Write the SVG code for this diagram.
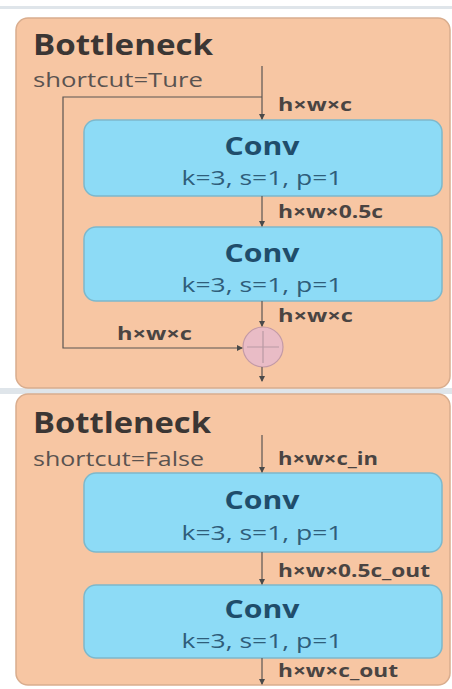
<svg xmlns="http://www.w3.org/2000/svg" width="452" height="689" viewBox="0 0 452 689">
  <defs>
    <marker id="arrow" viewBox="0 0 6 6" refX="5" refY="3" markerWidth="5" markerHeight="5" orient="auto">
      <path d="M0,0 L6,3 L0,6 Z" fill="#4a4a4a"/>
    </marker>
    <style>
      .panel { fill: #f7c6a3; stroke: #d9ad8e; stroke-width: 1.5; }
      .conv { fill: #8ddbf6; stroke: #7db8cc; stroke-width: 1.5; }
      .title { font-family: "Open Sans", "Noto Sans", sans-serif; font-weight: bold; font-size: 28px; fill: #3b3634; }
      .sub { font-family: "Open Sans", "Noto Sans", sans-serif; font-size: 20px; fill: #5a5350; }
      .cname { font-family: "Open Sans", "Noto Sans", sans-serif; font-weight: bold; font-size: 25px; fill: #1f4d6b; text-anchor: middle; }
      .cparam { font-family: "Open Sans", "Noto Sans", sans-serif; font-size: 20px; fill: #2f5d7a; text-anchor: middle; }
      .dim { font-family: "Open Sans", "Noto Sans", sans-serif; font-weight: bold; font-size: 18px; fill: #4a4442; }
      .wire { fill: none; stroke: #5a5552; stroke-width: 1.2; }
    </style>
  </defs>

  <rect x="0" y="0" width="452" height="689" fill="#ffffff"/>
  <rect x="0" y="6" width="452" height="3" fill="#dfe5ea"/>
  <rect x="0" y="388" width="452" height="6" fill="#dfe5ea"/>

  <!-- upper block: shortcut enabled -->
  <g id="bottleneck-shortcut">
    <rect class="panel" x="16" y="18" width="434" height="370" rx="12"/>
    <text class="title" x="33" y="55" textLength="180" lengthAdjust="spacingAndGlyphs">Bottleneck</text>
    <text class="sub" x="33" y="87" textLength="170" lengthAdjust="spacingAndGlyphs">shortcut=Ture</text>
  </g>
  <g id="conv1">
    <rect class="conv" x="84" y="120" width="358" height="76" rx="12"/>
    <text class="cname" x="262" y="155" textLength="75" lengthAdjust="spacingAndGlyphs">Conv</text>
    <text class="cparam" x="262" y="185" textLength="161" lengthAdjust="spacingAndGlyphs">k=3, s=1, p=1</text>
  </g>
  <g id="conv2">
    <rect class="conv" x="84" y="227" width="358" height="74" rx="12"/>
    <text class="cname" x="262" y="262" textLength="75" lengthAdjust="spacingAndGlyphs">Conv</text>
    <text class="cparam" x="262" y="292" textLength="161" lengthAdjust="spacingAndGlyphs">k=3, s=1, p=1</text>
  </g>
  <g id="add">
    <circle cx="263" cy="347" r="20" fill="#e9bcc6" stroke="#c39aa6" stroke-width="1.2"/>
    <path d="M263,331 V363 M247,347 H279" stroke="#b99aa4" stroke-width="1.2"/>
  </g>

  <!-- lower block: no shortcut -->
  <g id="bottleneck-plain">
    <rect class="panel" x="16" y="394" width="434" height="291" rx="12"/>
    <text class="title" x="33" y="433" textLength="178" lengthAdjust="spacingAndGlyphs">Bottleneck</text>
    <text class="sub" x="33" y="466" textLength="171" lengthAdjust="spacingAndGlyphs">shortcut=False</text>
  </g>
  <g id="conv3">
    <rect class="conv" x="84" y="473" width="358" height="79" rx="12"/>
    <text class="cname" x="262" y="509" textLength="75" lengthAdjust="spacingAndGlyphs">Conv</text>
    <text class="cparam" x="262" y="540" textLength="161" lengthAdjust="spacingAndGlyphs">k=3, s=1, p=1</text>
  </g>
  <g id="conv4">
    <rect class="conv" x="84" y="585" width="358" height="73" rx="12"/>
    <text class="cname" x="262" y="618" textLength="75" lengthAdjust="spacingAndGlyphs">Conv</text>
    <text class="cparam" x="262" y="648" textLength="161" lengthAdjust="spacingAndGlyphs">k=3, s=1, p=1</text>
  </g>

  <g id="connectors">
    <line class="wire" x1="262" y1="66" x2="262" y2="119" marker-end="url(#arrow)"/>
    <polyline class="wire" points="262,97 63,97 63,348 242,348" marker-end="url(#arrow)"/>
    <line class="wire" x1="262" y1="196" x2="262" y2="226" marker-end="url(#arrow)"/>
    <line class="wire" x1="262" y1="301" x2="262" y2="326" marker-end="url(#arrow)"/>
    <line class="wire" x1="262" y1="367" x2="262" y2="381" marker-end="url(#arrow)"/>
    <line class="wire" x1="262" y1="435" x2="262" y2="472" marker-end="url(#arrow)"/>
    <line class="wire" x1="262" y1="552" x2="262" y2="584" marker-end="url(#arrow)"/>
    <line class="wire" x1="262" y1="658" x2="262" y2="684" marker-end="url(#arrow)"/>

    <text class="dim" x="278" y="111" textLength="74" lengthAdjust="spacingAndGlyphs">h×w×c</text>
    <text class="dim" x="278" y="218" textLength="105" lengthAdjust="spacingAndGlyphs">h×w×0.5c</text>
    <text class="dim" x="278" y="322" textLength="75" lengthAdjust="spacingAndGlyphs">h×w×c</text>
    <text class="dim" x="117" y="340" textLength="75" lengthAdjust="spacingAndGlyphs">h×w×c</text>
    <text class="dim" x="278" y="465" textLength="100" lengthAdjust="spacingAndGlyphs">h×w×c_in</text>
    <text class="dim" x="278" y="577" textLength="152" lengthAdjust="spacingAndGlyphs">h×w×0.5c_out</text>
    <text class="dim" x="278" y="677" textLength="120" lengthAdjust="spacingAndGlyphs">h×w×c_out</text>
  </g>
</svg>
